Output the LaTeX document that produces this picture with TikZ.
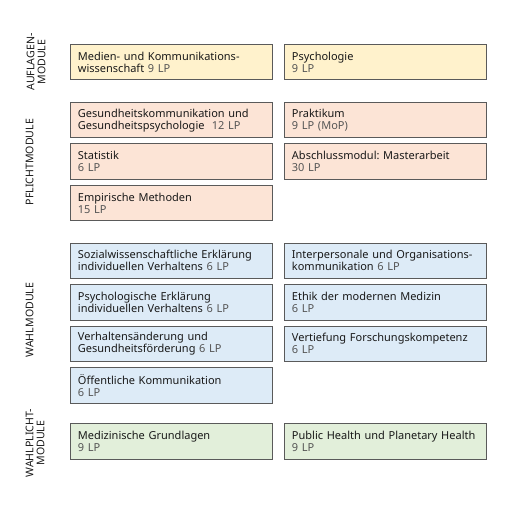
\documentclass[tikz,border=0pt]{standalone}
\usepackage{fontspec}
\setmainfont{Noto Sans}
\frenchspacing
\definecolor{lpgrey}{HTML}{555555}
\definecolor{rahmen}{HTML}{5A5A5A}
\definecolor{gelb}{HTML}{FFF2CC}
\definecolor{rosa}{HTML}{FCE4D6}
\definecolor{blau}{HTML}{DDEBF7}
\definecolor{gruen}{HTML}{E2EFDA}
\newcommand{\LP}[1]{{\color{lpgrey}#1~LP}}
\tikzset{
  modul/.style={draw=rahmen, line width=0.9pt, anchor=north west, align=left,
    text width=187pt, inner xsep=7.5pt, inner ysep=0pt, minimum height=35.5pt,
    font=\fontsize{11}{12}\selectfont, text=black!90},
  auflage/.style={modul, fill=gelb},
  pflicht/.style={modul, fill=rosa},
  wahl/.style={modul, fill=blau},
  wahlpflicht/.style={modul, fill=gruen},
  gruppe/.style={rotate=90, align=center, font=\fontsize{10.6}{11}\selectfont, text=black!90}
}
\begin{document}
\begin{tikzpicture}[x=1pt,y=-1pt]
\useasboundingbox (0,0) rectangle (510,510);
\node [gruppe] (auflagen) at (36,62) {AUFLAGEN-\\MODULE};
\node [gruppe] (pflichtlbl) at (29.5,162) {PFLICHTMODULE};
\node [gruppe] (wahllbl) at (29.5,320) {WAHLMODULE};
\node [gruppe] (wplbl) at (35,443) {WAHLPLICHT-\\MODULE};
\node [auflage] (medien) at (70,44) {Medien- und Kommunikations-\\wissenschaft \LP{9}};
\node [auflage] (psycho) at (284,44) {Psychologie\\\LP{9}};
\node [pflicht] (gesund) at (70,102) {Gesundheitskommunikation und\\Gesundheitspsychologie\ \ \LP{12}};
\node [pflicht] (praktikum) at (284,102) {Praktikum\\{\color{lpgrey}9~LP (MoP)}};
\node [pflicht] (statistik) at (70,143.5) {Statistik\\\LP{6}};
\node [pflicht] (master) at (284,143.5) {Abschlussmodul: Masterarbeit\\\LP{30}};
\node [pflicht] (empirie) at (70,185) {Empirische Methoden\\\LP{15}};
\node [wahl] (sozial) at (70,242.5) {Sozialwissenschaftliche Erklärung\\individuellen Verhaltens \LP{6}};
\node [wahl] (interpers) at (284,242.5) {Interpersonale und Organisations-\\kommunikation \LP{6}};
\node [wahl] (psyerkl) at (70,284) {Psychologische Erklärung\\individuellen Verhaltens \LP{6}};
\node [wahl] (ethik) at (284,284) {Ethik der modernen Medizin\\\LP{6}};
\node [wahl] (verhalten) at (70,325.5) {Verhaltensänderung und\\Gesundheitsförderung \LP{6}};
\node [wahl] (forschung) at (284,325.5) {Vertiefung Forschungskompetenz\\\LP{6}};
\node [wahl] (oeffentl) at (70,367) {Öffentliche Kommunikation\\\LP{6}};
\node [wahlpflicht] (medizin) at (70,423) {Medizinische Grundlagen\\\LP{9}};
\node [wahlpflicht] (publich) at (284,423) {Public Health und Planetary Health\\\LP{9}};
\end{tikzpicture}
\end{document}
